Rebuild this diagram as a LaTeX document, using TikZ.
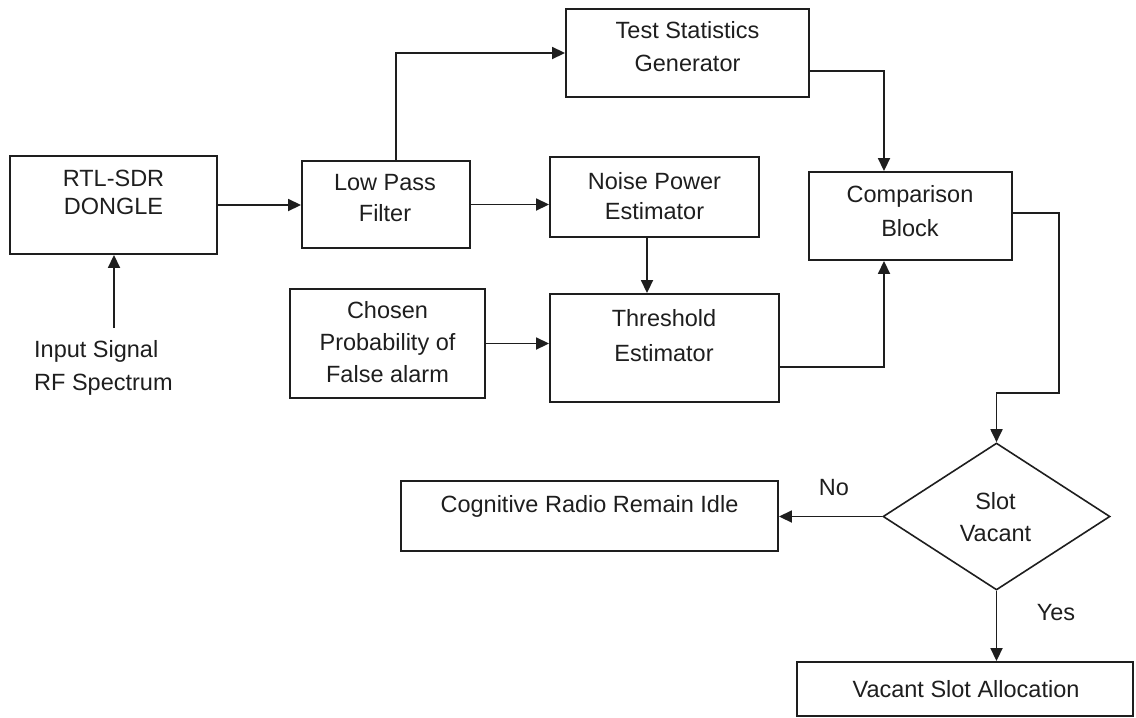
\documentclass[tikz,border=0pt]{standalone}
\usepackage{fontspec}
\setmainfont{Liberation Sans}
\usetikzlibrary{arrows.meta,shapes.geometric,calc}
\definecolor{ink}{HTML}{1E1E1E}
\tikzset{
  blk/.style={draw=ink, line width=1.9pt, inner sep=0pt, rectangle},
  dec/.style={draw=ink, line width=1.6pt, inner sep=0pt, diamond},
  txt/.style={inner sep=0pt, anchor=north, align=center, text=ink},
  conn/.style={draw=ink, line width=1.8pt, -{Triangle[length=13pt,width=12pt]}},
}
\newcommand{\fs}[1]{\fontsize{23.5}{#1}\selectfont}
\begin{document}
\begin{tikzpicture}[x=1pt,y=-1pt]
\useasboundingbox (0,0) rectangle (1136,718);
% boxes
\node[blk, minimum width=207pt, minimum height=98pt] (rtl) at (113.5,205) {};
\node[blk, minimum width=168pt, minimum height=87pt] (lpf) at (386,204.5) {};
\node[blk, minimum width=243pt, minimum height=88pt] (tsg) at (687.5,53) {};
\node[blk, minimum width=209pt, minimum height=80pt] (noise) at (654.5,197) {};
\node[blk, minimum width=203pt, minimum height=88pt] (cmp) at (910.5,216) {};
\node[blk, minimum width=195pt, minimum height=109pt] (cho) at (387.5,343.5) {};
\node[blk, minimum width=229pt, minimum height=108pt] (thr) at (664.5,348) {};
\node[dec, minimum width=227pt, minimum height=147pt] (dia) at (996.5,516.5) {};
\node[blk, minimum width=377pt, minimum height=70pt] (cog) at (589.5,516) {};
\node[blk, minimum width=336pt, minimum height=54pt] (vac) at (965,689) {};
% texts
\node[txt, font=\fs{28}] (trtl) at (113.5,170) {RTL-SDR\\DONGLE};
\node[txt, font=\fs{31}] (tlpf) at (385,174) {Low Pass\\Filter};
\node[txt, font=\fs{33}] (ttsg) at (687.5,21) {Test Statistics\\Generator};
\node[txt, font=\fs{30}] (tnoise) at (654.5,172) {Noise Power\\Estimator};
\node[txt, font=\fs{34}] (tcmp) at (910,185) {Comparison\\Block};
\node[txt, font=\fs{32}] (tcho) at (387.5,301) {Chosen\\Probability of\\False alarm};
\node[txt, font=\fs{35}] (tthr) at (664,309) {Threshold\\Estimator};
\node[txt, font=\fs{32}] (tdia) at (995.5,492) {Slot\\Vacant};
\node[txt, font=\fs{28}] (tcog) at (589.5,495) {Cognitive Radio Remain Idle};
\node[txt, font=\fs{28}] (tvac) at (966,680) {Vacant Slot Allocation};
\node[txt, font=\fs{33}, anchor=north west, align=left] (tin) at (34,340) {Input Signal\\RF Spectrum};
\node[txt, font=\fs{28}] (tno) at (834,479) {No};
\node[txt, font=\fs{28}] (tyes) at (1056,604) {Yes};
% connectors
\coordinate (insrc) at (114,328);
\coordinate (c1) at (1059,393);
\draw[conn] (insrc) -- (insrc |- rtl.south);
\draw[conn] (rtl.east) -- (rtl.east -| lpf.west);
\draw[conn] ([xshift=10pt]lpf.north) |- (tsg.west);
\draw[conn] (lpf.east) -- (lpf.east -| noise.west);
\draw[conn] ([yshift=-18pt]tsg.east) -| ([xshift=-26.5pt]cmp.north);
\draw[conn] ([xshift=-7.5pt]noise.south) -- ([xshift=-7.5pt]noise.south |- thr.north);
\draw[conn] (cho.east) -- (cho.east -| thr.west);
\draw[conn] ([yshift=-19pt]thr.east) -| ([xshift=-26.5pt]cmp.south);
\draw[conn] ([yshift=3pt]cmp.east) -| (c1) -| (dia.north);
\draw[conn] (dia.west) -- (dia.west -| cog.east);
\draw[conn] (dia.south) -- (dia.south |- vac.north);
\end{tikzpicture}
\end{document}
